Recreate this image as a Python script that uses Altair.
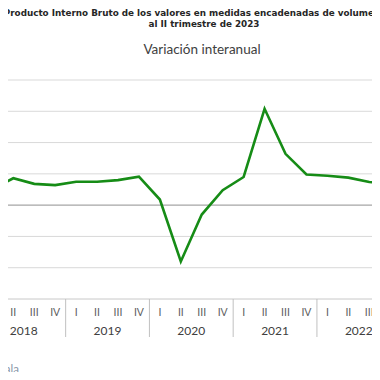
import altair as alt
import pandas as pd

# ---- data ----
years = ["2018", "2019", "2020", "2021", "2022"]
quarters = ["I", "II", "III", "IV"]
values = [2.5, 4.3, 3.4, 3.2,
          3.75, 3.75, 4.0, 4.55,
          0.9, -9.0, -1.5, 2.4,
          4.5, 15.4, 8.2, 4.9,
          4.7, 4.4, 3.7, 3.4]
grid_values = [-10, -5, 5, 10, 15, 20]
title_line1 = "Producto Interno Bruto de los valores en medidas encadenadas  de volumen"
title_line2 = "al II trimestre de 2023"
subtitle = "Variación interanual"
source_text = "Fuente: Banco de Guatemala"

rows = []
for yi, yr in enumerate(years):
    for qi, q in enumerate(quarters):
        idx = yi * 4 + qi
        rows.append({"i": idx, "q": q, "year": yr, "v": values[idx]})
df = pd.DataFrame(rows)
years_df = pd.DataFrame({"year": years, "c": [k * 4 + 1.5 for k in range(len(years))]})
sep_df = pd.DataFrame({"s": [k * 4 + 3.5 for k in range(len(years))]})
grid_df = pd.DataFrame({"g": grid_values})

W, H = 364, 219
FONT = "Lato"
TFONT = "DejaVu Sans"

xs = alt.Scale(domain=[0.747, 18.13], nice=False, zero=False)
ys = alt.Scale(domain=[-15, 20], nice=False, zero=False)

grid = alt.Chart(grid_df).mark_rule(color="#d9d9d9", strokeWidth=1).encode(
    y=alt.Y("g:Q", scale=ys, axis=None))
zero = alt.Chart(pd.DataFrame({"z": [0]})).mark_rule(color="#a6a6a6", strokeWidth=1.2).encode(
    y=alt.Y("z:Q", scale=ys, axis=None))
bottom = alt.Chart(pd.DataFrame({"b": [-15]})).mark_rule(color="#c8c8c8", strokeWidth=1).encode(
    y=alt.Y("b:Q", scale=ys, axis=None))

line = alt.Chart(df).mark_line(color="#168c16", strokeWidth=2.6, clip=True).encode(
    x=alt.X("i:Q", scale=xs, axis=None),
    y=alt.Y("v:Q", scale=ys, axis=None))

qlabels = alt.Chart(df).mark_text(font=FONT, fontSize=10.5, color="#606060", baseline="middle").encode(
    x=alt.X("i:Q", scale=xs, axis=None),
    y=alt.value(H + 13.5),
    text="q:N")

ylabels = alt.Chart(years_df).mark_text(font=FONT, fontSize=12, color="#404040", baseline="middle").encode(
    x=alt.X("c:Q", scale=xs, axis=None),
    y=alt.value(H + 32),
    text="year:N")

seps = alt.Chart(sep_df).mark_rule(color="#c0c0c0", strokeWidth=1).encode(
    x=alt.X("s:Q", scale=xs, axis=None),
    y=alt.value(H),
    y2=alt.value(H + 38))

t1 = alt.Chart(pd.DataFrame({"t": [title_line1]})).mark_text(font=TFONT, fontSize=8.8, fontWeight="bold",
                                                             color="#262626", baseline="middle", align="center").encode(
    x=alt.value(184), y=alt.value(-67.3), text="t:N")
t2 = alt.Chart(pd.DataFrame({"t": [title_line2]})).mark_text(font=TFONT, fontSize=8.8, fontWeight="bold",
                                                             color="#262626", baseline="middle", align="center").encode(
    x=alt.value(196), y=alt.value(-55.7), text="t:N")
st = alt.Chart(pd.DataFrame({"t": [subtitle]})).mark_text(font=FONT, fontSize=13.5, color="#404040",
                                                          baseline="middle", align="center").encode(
    x=alt.value(194), y=alt.value(-30), text="t:N")
src = alt.Chart(pd.DataFrame({"t": [source_text]})).mark_text(font=FONT, fontSize=11.5, color="#8a96a8",
                                                              baseline="middle", align="right").encode(
    x=alt.value(11), y=alt.value(H + 71), text="t:N")

chart = alt.layer(grid, zero, bottom, line, qlabels, ylabels, seps, t1, t2, st, src).properties(
    width=W, height=H,
    padding={"left": 0, "right": 0, "top": 72, "bottom": 73},
    autosize=alt.AutoSizeParams(type="none"),
).configure_view(stroke=None)

chart.save("out.html", embed_options={"renderer": "svg", "actions": False})
